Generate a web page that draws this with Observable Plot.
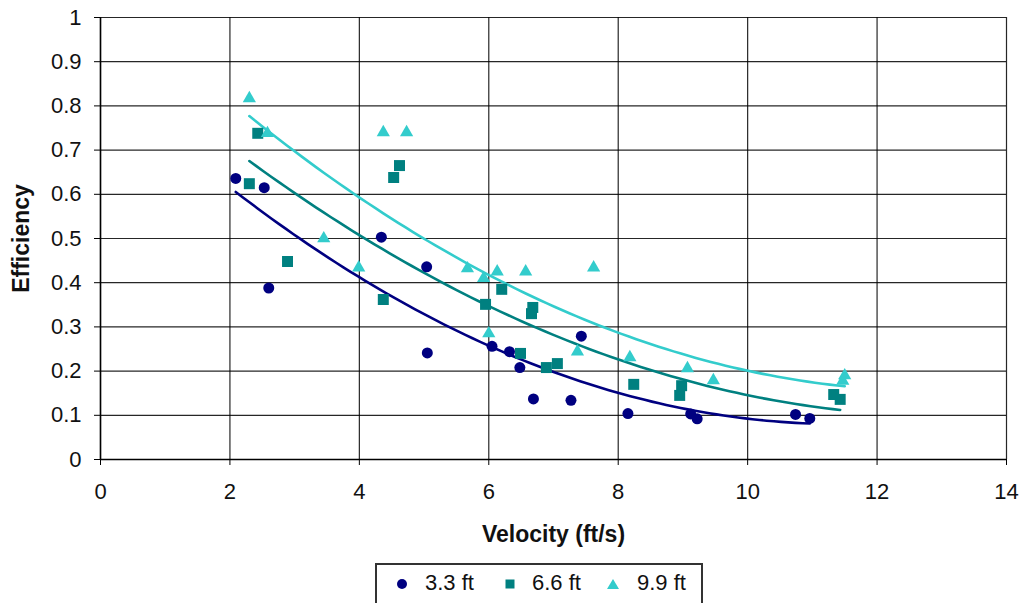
<!DOCTYPE html>
<html>
<head>
<meta charset="utf-8">
<script src="https://cdn.jsdelivr.net/npm/d3@7"></script>
<script src="https://cdn.jsdelivr.net/npm/@observablehq/plot@0.6"></script>
<style>
  html, body { margin: 0; padding: 0; background: #fff; overflow: hidden; }
  body { width: 1019px; height: 603px; position: relative; font-family: "Liberation Sans", Arial, sans-serif; }
  #chart { position: absolute; left: 0; top: 0; }
  #legend { position: absolute; left: 375px; top: 563px; width: 328px; height: 60px;
            border: 2px solid #333; box-sizing: border-box; background: #fff; }
  .item { position: absolute; top: 7px; font-size: 22px; color: #111; line-height: 22px; white-space: nowrap; }
  .sym { position: absolute; top: 13px; line-height: 0; }
</style>
</head>
<body>
<div id="chart"></div>
<div id="legend"></div>
<script>
// ---- Data ----
const seriesNames = ["3.3 ft", "6.6 ft", "9.9 ft"];
const seriesColors = ["#000080", "#008080", "#33CCCC"];
const seriesSymbols = ["circle", "square", "triangle"];

const vel33 = [2.09, 2.53, 2.60, 4.34, 5.04, 5.05, 6.05, 6.32, 6.48, 6.69, 7.27, 7.43, 8.15, 9.12, 9.22, 10.74, 10.96];
const eff33 = [0.636, 0.615, 0.388, 0.503, 0.436, 0.241, 0.256, 0.244, 0.208, 0.137, 0.134, 0.279, 0.104, 0.103, 0.092, 0.102, 0.093];

const vel66 = [2.30, 2.43, 2.89, 4.37, 4.53, 4.62, 5.95, 6.20, 6.49, 6.66, 6.68, 6.89, 7.06, 8.24, 8.95, 8.98, 11.33, 11.43];
const eff66 = [0.624, 0.738, 0.448, 0.362, 0.638, 0.665, 0.351, 0.385, 0.240, 0.330, 0.344, 0.208, 0.217, 0.170, 0.145, 0.167, 0.147, 0.136];

const vel99 = [2.30, 2.58, 3.45, 3.99, 4.37, 4.73, 5.67, 5.92, 6.00, 6.13, 6.57, 7.37, 7.62, 8.18, 9.07, 9.47, 11.47, 11.50];
const eff99 = [0.817, 0.738, 0.500, 0.434, 0.740, 0.740, 0.432, 0.410, 0.285, 0.425, 0.425, 0.244, 0.434, 0.231, 0.206, 0.179, 0.178, 0.190];

const xTicks = [0, 2, 4, 6, 8, 10, 12, 14];
const yTicks = [0, 0.1, 0.2, 0.3, 0.4, 0.5, 0.6, 0.7, 0.8, 0.9, 1];

const velocities = [vel33, vel66, vel99];
const efficiencies = [eff33, eff66, eff99];

// ---- Build tables ----
const points = [];
velocities.forEach((vs, i) => vs.forEach((v, j) => points.push({series: seriesNames[i], v, e: efficiencies[i][j]})));

// Polynomial (order 2) trend lines, least squares, like the spreadsheet's trendline
function quadFit(xs, ys) {
  const n = xs.length;
  let s = [0,0,0,0,0], t = [0,0,0];
  for (let k = 0; k < n; k++) {
    const x = xs[k], y = ys[k];
    for (let p = 0; p <= 4; p++) s[p] += Math.pow(x, p);
    for (let p = 0; p <= 2; p++) t[p] += Math.pow(x, p) * y;
  }
  const A = [[s[0], s[1], s[2], t[0]], [s[1], s[2], s[3], t[1]], [s[2], s[3], s[4], t[2]]];
  for (let c = 0; c < 3; c++) {
    let piv = c;
    for (let r = c + 1; r < 3; r++) if (Math.abs(A[r][c]) > Math.abs(A[piv][c])) piv = r;
    [A[c], A[piv]] = [A[piv], A[c]];
    for (let r = 0; r < 3; r++) {
      if (r === c) continue;
      const f = A[r][c] / A[c][c];
      for (let k = c; k < 4; k++) A[r][k] -= f * A[c][k];
    }
  }
  return [A[0][3] / A[0][0], A[1][3] / A[1][1], A[2][3] / A[2][2]];
}
const trend = [];
velocities.forEach((vs, i) => {
  const [a, b, c] = quadFit(vs, efficiencies[i]);
  const lo = d3.min(vs), hi = d3.max(vs);
  const N = 80;
  for (let k = 0; k <= N; k++) {
    const v = lo + (hi - lo) * k / N;
    trend.push({series: seriesNames[i], v, e: a + b * v + c * v * v});
  }
});

const font = '"Liberation Sans", Arial, sans-serif';
const markerR = {"3.3 ft": 5.5, "6.6 ft": 6.2, "9.9 ft": 4.9};

const chart = Plot.plot({
  width: 1019,
  height: 556,
  marginLeft: 100,
  marginRight: 13,
  marginTop: 17,
  marginBottom: 97,
  style: {fontFamily: font, fontSize: "22px", color: "#111", background: "transparent", overflow: "visible"},
  x: {domain: [0, 14]},
  y: {domain: [0, 1]},
  color: {domain: seriesNames, range: seriesColors},
  symbol: {domain: seriesNames, range: seriesSymbols},
  marks: [
    Plot.gridX(xTicks, {stroke: "#000", strokeOpacity: 0.85, strokeWidth: 1.2}),
    Plot.gridY(yTicks, {stroke: "#000", strokeOpacity: 0.85, strokeWidth: 1.2}),
    Plot.axisX({ticks: xTicks, tickSize: 6, tickPadding: 18, label: null, stroke: "#000", fill: "#111", fontSize: 22}),
    Plot.axisY({ticks: yTicks, tickSize: 6, tickPadding: 13, label: null, stroke: "#000", fill: "#111", fontSize: 22,
                tickFormat: d => String(+d.toFixed(1))}),
    Plot.ruleX([0], {stroke: "#000", strokeWidth: 1.5}),
    Plot.ruleY([0], {stroke: "#000", strokeWidth: 1.5}),
    Plot.axisX({ticks: [], label: "Velocity (ft/s)", labelAnchor: "center", labelArrow: "none", labelOffset: 82,
                fontWeight: "bold", fontSize: 23, fill: "#111"}),
    Plot.axisY({ticks: [], label: "Efficiency", labelAnchor: "center", labelArrow: "none", labelOffset: 88,
                fontWeight: "bold", fontSize: 23, fill: "#111"}),
    Plot.line(trend, {x: "v", y: "e", z: "series", stroke: "series", strokeWidth: 2.6}),
    ...seriesNames.map(name =>
      Plot.dot(points.filter(d => d.series === name),
               {x: "v", y: "e", fill: "series", symbol: "series", r: markerR[name], stroke: "none"}))
  ]
});
document.getElementById("chart").appendChild(chart);

// ---- Legend below the chart ----
const legend = document.getElementById("legend");
const symbolSvg = {
  circle: c => `<svg width="12" height="12"><circle cx="6" cy="6" r="5" fill="${c}"/></svg>`,
  square: c => `<svg width="12" height="12"><rect x="1.5" y="1.5" width="9" height="9" fill="${c}"/></svg>`,
  triangle: c => `<svg width="14" height="12"><path d="M7 1 L13 11 L1 11 Z" fill="${c}"/></svg>`
};
const symLeft = [19, 127, 229];
const textLeft = [48, 155, 260];
seriesNames.forEach((name, i) => {
  const s = document.createElement("div");
  s.className = "sym";
  s.style.left = symLeft[i] + "px";
  s.innerHTML = symbolSvg[seriesSymbols[i]](seriesColors[i]);
  legend.appendChild(s);
  const t = document.createElement("div");
  t.className = "item";
  t.style.left = textLeft[i] + "px";
  t.textContent = name;
  legend.appendChild(t);
});
</script>
</body>
</html>
